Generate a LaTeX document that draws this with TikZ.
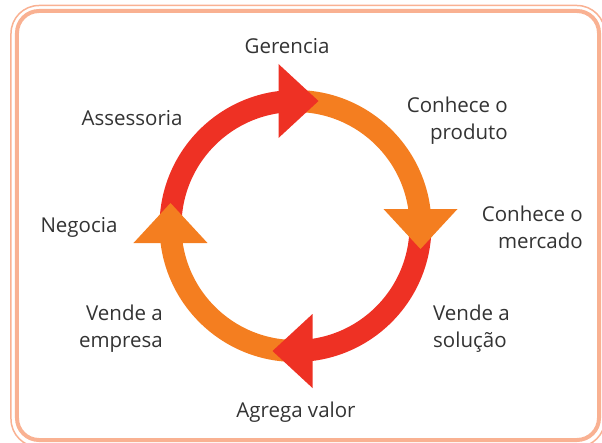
\documentclass[tikz,border=0pt]{standalone}
\usepackage{fontspec}
\setmainfont{Open Sans}
\usetikzlibrary{calc,positioning}
\definecolor{cred}{HTML}{EE3124}
\definecolor{corange}{HTML}{F47E20}
\definecolor{cframe}{HTML}{F9B192}
\definecolor{ctext}{HTML}{333333}

\begin{document}
\begin{tikzpicture}[x=1pt,y=1pt,
  lbl/.style={text=ctext,font=\fontsize{20.5}{27}\selectfont,inner sep=0pt}]
\useasboundingbox (-295.5,-216) rectangle (306.5,226);
% moldura
\draw[cframe,line width=1.5pt,rounded corners=28pt] (-284.5,220.5) rectangle (309.5,-221);
\draw[cframe,line width=4pt,rounded corners=22pt] (-278.5,215) rectangle (303.5,-214);
% anel e setas
\foreach \a/\c in {180/cred,90/corange,0/cred,-90/corange}
  {\draw[\c,line width=22pt] (\a:125) arc (\a:\a-90:125);}
\foreach \a/\c in {90/cred,0/corange,-90/cred,180/corange}
  {\fill[\c] ($(\a:125)+(\a-90:23)$) -- ($(\a:125)+(\a+90:17)+(\a:37)$)
     -- ($(\a:125)+(\a+90:17)+(\a+180:37)$) -- cycle;}
\node[lbl,anchor=base] (gerencia) at (-8.5,172) {Gerencia};
\node[lbl,anchor=base] (assessoria) at (-163.5,100) {Assessoria};
\node[lbl,anchor=base east,align=right] (produto) at (212.5,87) {Conhece o\\produto};
\node[lbl,anchor=base east,align=right] (mercado) at (287.5,-22) {Conhece o\\mercado};
\node[lbl,anchor=base] (negocia) at (-216.5,-6) {Negocia};
\node[lbl,anchor=base west,align=left] (solucao) at (137.5,-121) {Vende a\\solução};
\node[lbl,anchor=base east,align=right] (empresa) at (-132.5,-121) {Vende a\\empresa};
\node[lbl,anchor=base] (valor) at (0.5,-191) {Agrega valor};
\end{tikzpicture}
\end{document}
